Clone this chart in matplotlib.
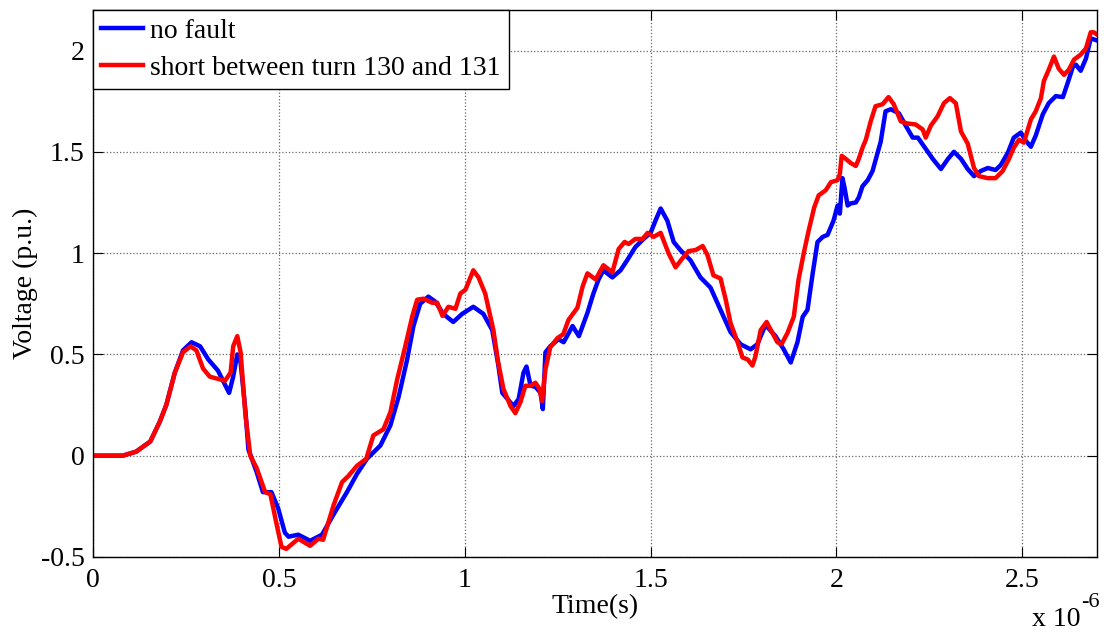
import numpy as np
import matplotlib
matplotlib.use("Agg")
import matplotlib.pyplot as plt
from matplotlib.ticker import FuncFormatter

plt.rcParams["font.family"] = ["Liberation Serif", "DejaVu Serif"]
plt.rcParams["axes.unicode_minus"] = False

# (time in microseconds, voltage p.u.)
no_fault = [
    (0, 0), (0.08, 0), (0.116, 0.02), (0.154, 0.07), (0.18, 0.17), (0.197, 0.25),
    (0.22, 0.41), (0.242, 0.52), (0.265, 0.56), (0.288, 0.54), (0.31, 0.475),
    (0.336, 0.42), (0.355, 0.35), (0.366, 0.31), (0.377, 0.39), (0.388, 0.50),
    (0.397, 0.46), (0.41, 0.22), (0.418, 0.03), (0.44, -0.08), (0.457, -0.18),
    (0.48, -0.18), (0.498, -0.26), (0.516, -0.38), (0.526, -0.40), (0.552, -0.39),
    (0.584, -0.42), (0.616, -0.39), (0.647, -0.29), (0.683, -0.18), (0.71, -0.09),
    (0.737, -0.015), (0.773, 0.05), (0.80, 0.15), (0.822, 0.29), (0.845, 0.475),
    (0.862, 0.64), (0.88, 0.75), (0.902, 0.785), (0.921, 0.76), (0.942, 0.70),
    (0.969, 0.66), (0.993, 0.70), (1.023, 0.735), (1.05, 0.70), (1.074, 0.62),
    (1.09, 0.45), (1.101, 0.31), (1.115, 0.28), (1.131, 0.245), (1.145, 0.28),
    (1.158, 0.41), (1.166, 0.44), (1.177, 0.345), (1.19, 0.34), (1.204, 0.31),
    (1.21, 0.23), (1.217, 0.51), (1.23, 0.54), (1.252, 0.575), (1.266, 0.56),
    (1.29, 0.64), (1.307, 0.59), (1.33, 0.705), (1.346, 0.80), (1.36, 0.87),
    (1.373, 0.915), (1.397, 0.88), (1.419, 0.915), (1.437, 0.965), (1.459, 1.03),
    (1.481, 1.07), (1.50, 1.10), (1.513, 1.16), (1.527, 1.22), (1.545, 1.16),
    (1.562, 1.055), (1.58, 1.015), (1.607, 0.965), (1.634, 0.88), (1.661, 0.83),
    (1.688, 0.72), (1.715, 0.61), (1.742, 0.55), (1.769, 0.525), (1.787, 0.55),
    (1.809, 0.645), (1.836, 0.59), (1.858, 0.525), (1.877, 0.46), (1.895, 0.56),
    (1.909, 0.685), (1.922, 0.72), (1.936, 0.90), (1.949, 1.055), (1.963, 1.08),
    (1.976, 1.09), (1.992, 1.16), (2.003, 1.235), (2.009, 1.195), (2.016, 1.37),
    (2.022, 1.32), (2.03, 1.235), (2.038, 1.245), (2.052, 1.25), (2.06, 1.275),
    (2.07, 1.33), (2.084, 1.36), (2.097, 1.405), (2.11, 1.49), (2.119, 1.55),
    (2.132, 1.70), (2.146, 1.71), (2.168, 1.69), (2.186, 1.63), (2.205, 1.57),
    (2.219, 1.57), (2.24, 1.515), (2.259, 1.465), (2.281, 1.415), (2.30, 1.465),
    (2.316, 1.50), (2.335, 1.465), (2.353, 1.415), (2.37, 1.38), (2.388, 1.405),
    (2.407, 1.42), (2.428, 1.41), (2.442, 1.435), (2.461, 1.495), (2.477, 1.57),
    (2.496, 1.595), (2.509, 1.555), (2.523, 1.525), (2.536, 1.58), (2.555, 1.685),
    (2.571, 1.74), (2.59, 1.775), (2.609, 1.77), (2.622, 1.84), (2.636, 1.92),
    (2.644, 1.93), (2.657, 1.90), (2.671, 1.96), (2.684, 2.06), (2.70, 2.05),
]

short_130_131 = [
    (0, 0), (0.08, 0), (0.116, 0.02), (0.154, 0.07), (0.18, 0.17), (0.197, 0.25),
    (0.22, 0.41), (0.242, 0.51), (0.262, 0.54), (0.278, 0.52), (0.296, 0.43),
    (0.314, 0.39), (0.355, 0.37), (0.37, 0.41), (0.377, 0.54), (0.388, 0.59),
    (0.397, 0.51), (0.41, 0.20), (0.423, 0.0), (0.44, -0.06), (0.463, -0.18),
    (0.477, -0.19), (0.494, -0.34), (0.507, -0.45), (0.52, -0.46), (0.539, -0.43),
    (0.552, -0.41), (0.584, -0.445), (0.606, -0.41), (0.619, -0.415), (0.647, -0.245),
    (0.67, -0.13), (0.687, -0.10), (0.71, -0.05), (0.735, -0.015), (0.754, 0.10),
    (0.781, 0.13), (0.80, 0.215), (0.818, 0.375), (0.84, 0.54), (0.859, 0.69),
    (0.872, 0.77), (0.889, 0.775), (0.912, 0.755), (0.926, 0.755), (0.94, 0.69),
    (0.956, 0.735), (0.975, 0.725), (0.988, 0.80), (1.002, 0.82), (1.023, 0.915),
    (1.037, 0.88), (1.055, 0.80), (1.077, 0.62), (1.09, 0.46), (1.104, 0.33),
    (1.123, 0.245), (1.136, 0.21), (1.15, 0.265), (1.163, 0.345), (1.177, 0.345),
    (1.19, 0.36), (1.201, 0.33), (1.208, 0.27), (1.217, 0.425), (1.23, 0.535),
    (1.249, 0.58), (1.265, 0.60), (1.279, 0.67), (1.303, 0.73), (1.317, 0.835),
    (1.33, 0.90), (1.352, 0.87), (1.373, 0.94), (1.397, 0.905), (1.414, 1.02),
    (1.43, 1.055), (1.441, 1.045), (1.459, 1.07), (1.478, 1.07), (1.492, 1.10),
    (1.508, 1.08), (1.527, 1.10), (1.548, 1.0), (1.567, 0.93), (1.586, 0.975),
    (1.602, 1.01), (1.621, 1.015), (1.64, 1.035), (1.653, 0.99), (1.669, 0.89),
    (1.688, 0.875), (1.702, 0.77), (1.715, 0.655), (1.734, 0.56), (1.747, 0.485),
    (1.761, 0.475), (1.774, 0.445), (1.782, 0.49), (1.796, 0.62), (1.812, 0.66),
    (1.828, 0.605), (1.841, 0.56), (1.852, 0.55), (1.868, 0.605), (1.885, 0.685),
    (1.898, 0.87), (1.912, 1.0), (1.925, 1.11), (1.94, 1.225), (1.952, 1.285),
    (1.971, 1.31), (1.985, 1.35), (2.003, 1.36), (2.009, 1.39), (2.014, 1.48),
    (2.025, 1.465), (2.038, 1.445), (2.052, 1.43), (2.06, 1.465), (2.07, 1.52),
    (2.079, 1.56), (2.092, 1.65), (2.105, 1.725), (2.124, 1.735), (2.14, 1.77),
    (2.154, 1.735), (2.173, 1.65), (2.19, 1.64), (2.213, 1.635), (2.232, 1.61),
    (2.24, 1.57), (2.254, 1.63), (2.272, 1.675), (2.289, 1.74), (2.305, 1.765),
    (2.321, 1.74), (2.335, 1.60), (2.353, 1.54), (2.37, 1.42), (2.383, 1.38),
    (2.407, 1.37), (2.428, 1.37), (2.447, 1.405), (2.464, 1.465), (2.477, 1.52),
    (2.491, 1.56), (2.504, 1.545), (2.523, 1.66), (2.536, 1.70), (2.55, 1.765),
    (2.558, 1.85), (2.571, 1.905), (2.585, 1.97), (2.598, 1.91), (2.612, 1.88),
    (2.625, 1.905), (2.639, 1.955), (2.657, 1.98), (2.671, 2.01), (2.684, 2.09),
    (2.692, 2.09), (2.70, 2.08),
]

labels = ["no fault", "short between turn 130 and 131"]
colors = ["#0000ff", "#ff0000"]

x_ticks = [0, 0.5, 1, 1.5, 2, 2.5]
y_ticks = [-0.5, 0, 0.5, 1, 1.5, 2]

fig = plt.figure(figsize=(11.09, 6.32), dpi=100)
ax = fig.add_axes([0.0839, 0.1187, 0.905, 0.8655])

for data, lab, c in zip([no_fault, short_130_131], labels, colors):
    arr = np.array(data)
    ax.plot(arr[:, 0] * 1e-6, arr[:, 1], color=c, lw=3.2, label=lab,
            solid_joinstyle="round")

ax.set_xlim(0, 2.7e-6)
ax.set_ylim(-0.5, 2.2)
ax.set_xticks([v * 1e-6 for v in x_ticks])
ax.set_yticks(y_ticks)
ax.xaxis.set_major_formatter(FuncFormatter(lambda v, p: "%g" % round(v * 1e6, 3)))
ax.yaxis.set_major_formatter(FuncFormatter(lambda v, p: "%g" % v))

ax.grid(True, linestyle=":", color="0.4", lw=0.9)
ax.tick_params(direction="in", top=True, right=True, length=7, width=0.8,
               labelsize=20)
ax.tick_params(axis="x", pad=8)
ax.tick_params(axis="y", pad=6)
for sp in ax.spines.values():
    sp.set_linewidth(1.0)

ax.set_xlabel("Time(s)", fontsize=20, labelpad=1)
ax.set_ylabel("Voltage (p.u.)", fontsize=20, labelpad=2)

# MATLAB style exponent label under the x axis
fig.text(0.974, 0.0, "x 10", ha="right", va="bottom", fontsize=20)
fig.text(0.975, 0.032, "-6", ha="left", va="bottom", fontsize=16)

leg = ax.legend(loc="upper left", borderaxespad=0, fancybox=False,
                edgecolor="black", framealpha=1, fontsize=20,
                handlelength=1.5, handletextpad=0.25, borderpad=0.3,
                labelspacing=0.42)
leg.get_frame().set_linewidth(1.0)

fig.savefig("out.png", dpi=100)
